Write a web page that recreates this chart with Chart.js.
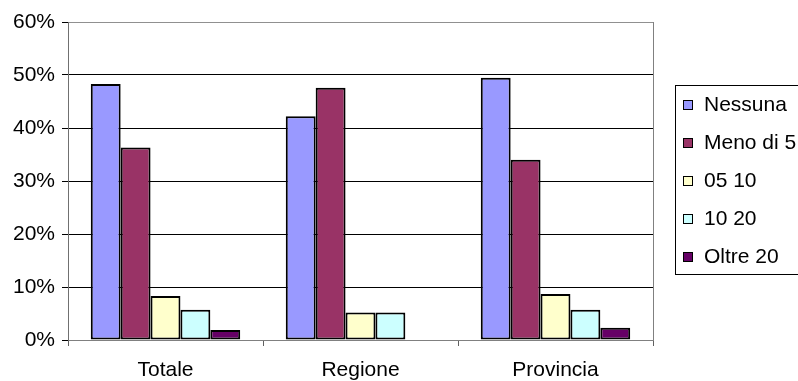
<!DOCTYPE html>
<html>
<head>
<meta charset="utf-8">
<script src="https://cdn.jsdelivr.net/npm/chart.js@4"></script>
<style>
  html, body { margin: 0; padding: 0; background: #fff; }
  #wrap { width: 798px; height: 381px; position: relative; }
</style>
</head>
<body>
<div id="wrap"><canvas id="chart"></canvas></div>
<script>
// categories and series (percent)
const categories = ["Totale", "Regione", "Provincia"];
const seriesNames = ["Nessuna", "Meno di 5", "05 10", "10 20", "Oltre 20"];
const nessuna = [48.3, 42.2, 49.5];
const menoDi5 = [36.3, 47.6, 34.0];
const da05a10 = [8.3, 5.2, 8.7];
const da10a20 = [5.7, 5.2, 5.7];
const oltre20 = [1.9, 0, 2.3];
const yMax = 60;
const yStep = 10;

// old excel palette
const colours = ["#9999FF", "#993366", "#FFFFCC", "#CCFFFF", "#660066"];
const seriesValues = [nessuna, menoDi5, da05a10, da10a20, oltre20];

const FONT = "'Liberation Sans', Arial, sans-serif";
const FONT_SIZE = 21;

//frame on the right of the plot + the boxed legend on the right
const frameAndLegend = {
	id: "frameAndLegend",
	afterDraw(chart) {
		const ctx = chart.ctx;
		const a = chart.chartArea;
		ctx.save();
		ctx.strokeStyle = "#808080";
		ctx.lineWidth = 1;
		ctx.beginPath();
		ctx.moveTo(Math.round(a.right) + 0.5, a.top);
		ctx.lineTo(Math.round(a.right) + 0.5, a.bottom);
		ctx.stroke();

		// legend box
		ctx.strokeStyle = "#000";
		ctx.strokeRect(675.5, 85.5, 130, 189);
		ctx.font = FONT_SIZE + "px " + FONT;
		ctx.textBaseline = "middle";
		ctx.textAlign = "left";
		chart.data.datasets.forEach(function (ds, i) {
			let y = 105 + i * 38;
			ctx.fillStyle = ds.backgroundColor;
			ctx.fillRect(683.5, y - 4.5, 9, 9);
			ctx.strokeStyle = "#000";
			ctx.strokeRect(683.5, y - 4.5, 9, 9);
			ctx.fillStyle = "#000";
			ctx.fillText(ds.label, 704, y);
		});
		ctx.restore();
	}
};

const datasets = seriesNames.map(function (name, i) {
	return {
		label: name,
		data: seriesValues[i],
		backgroundColor: colours[i],
		borderColor: "#000",
		borderWidth: 2,
		borderSkipped: false,
		barPercentage: 1,
		categoryPercentage: 0.7665
	};
});

new Chart(document.getElementById("chart"), {
	type: "bar",
	data: { labels: categories, datasets: datasets },
	plugins: [frameAndLegend],
	options: {
		responsive: true,
		maintainAspectRatio: false,
		animation: false,
		layout: { padding: { top: 22, right: 145, left: 0, bottom: 0 } },
		plugins: {
			legend: { display: false },
			tooltip: { enabled: false }
		},
		scales: {
			x: {
				offset: true,
				grid: { offset: true, drawOnChartArea: false, drawTicks: true, tickLength: 6, color: "#606060" },
				border: { color: "#808080" },
				ticks: { color: "#000", padding: 12, font: { family: FONT, size: FONT_SIZE } },
				afterFit: function (scale) { scale.height = 41; }
			},
			y: {
				min: 0,
				max: yMax,
				grid: {
					color: function (c) { return c.tick && c.tick.value === yMax ? "#909090" : "#000"; },
					tickColor: "#000",
					tickLength: 6
				},
				border: { color: "#707070" },
				ticks: {
					stepSize: yStep,
					color: "#000",
					padding: 7,
					font: { family: FONT, size: FONT_SIZE },
					callback: function (v) { return v + "%"; }
				},
				afterFit: function (scale) { scale.width = 68; }
			}
		}
	}
});
</script>
</body>
</html>
